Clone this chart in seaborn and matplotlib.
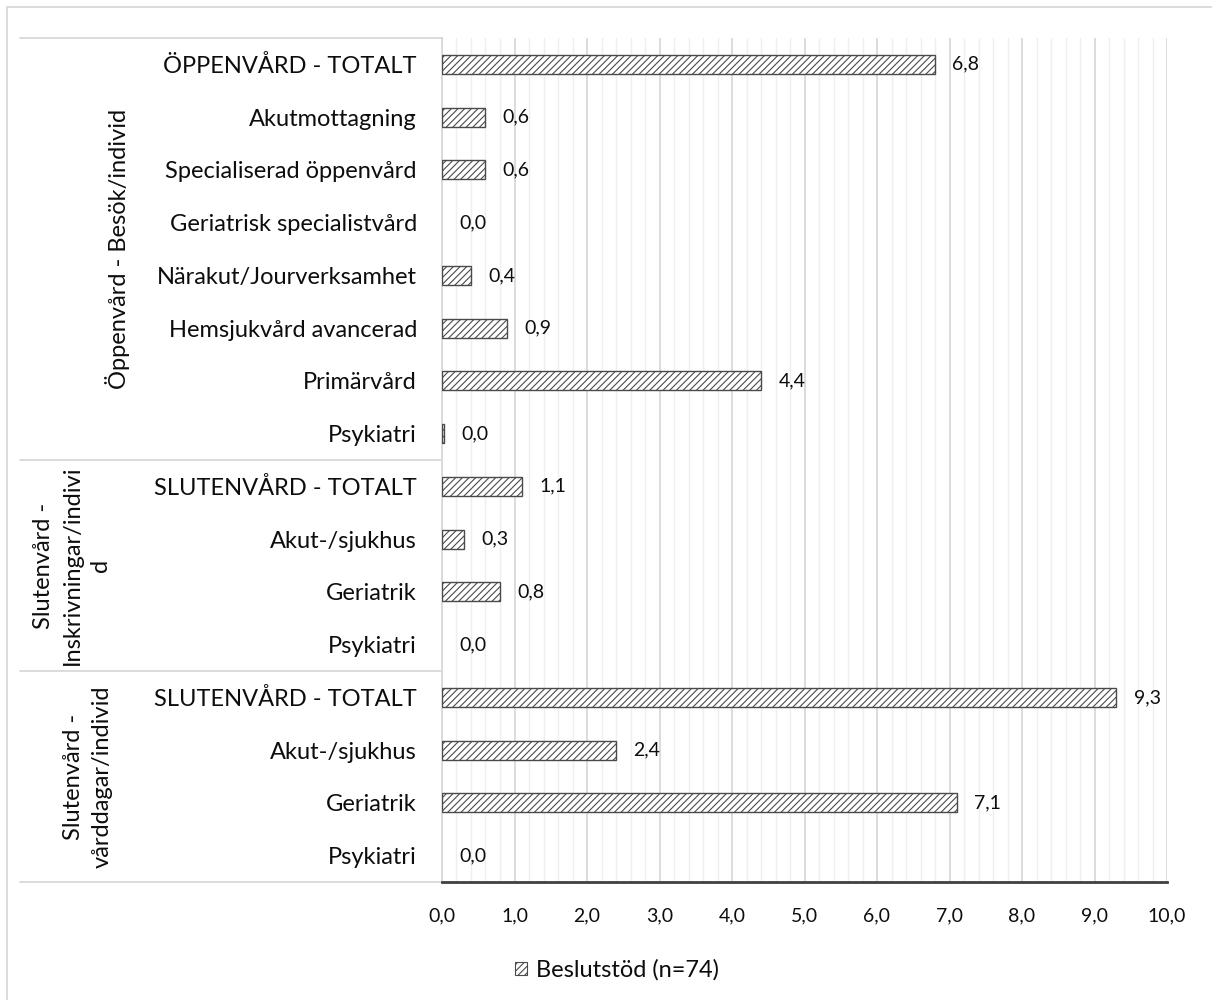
import matplotlib
matplotlib.use("Agg")
import matplotlib.pyplot as plt
from matplotlib.patches import Patch, Rectangle
from matplotlib.ticker import MultipleLocator, FuncFormatter
import seaborn as sns
import pandas as pd

# Data
group_labels = [
    "Öppenvård - Besök/individ",
    "Slutenvård -\nInskrivningar/indivi\nd",
    "Slutenvård -\nvårddagar/individ",
]
oppen_categories = ["ÖPPENVÅRD - TOTALT", "Akutmottagning", "Specialiserad öppenvård",
                    "Geriatrisk specialistvård", "Närakut/Jourverksamhet",
                    "Hemsjukvård avancerad", "Primärvård", "Psykiatri"]
oppen_values = [6.8, 0.6, 0.6, 0.0, 0.4, 0.9, 4.4, 0.03]
inskr_categories = ["SLUTENVÅRD - TOTALT", "Akut-/sjukhus", "Geriatrik", "Psykiatri"]
inskr_values = [1.1, 0.3, 0.8, 0.0]
vard_categories = ["SLUTENVÅRD - TOTALT", "Akut-/sjukhus", "Geriatrik", "Psykiatri"]
vard_values = [9.3, 2.4, 7.1, 0.0]
series_name = "Beslutstöd (n=74)"

FS = 17        # category, group and legend text
FS_NUM = 14    # tick and value labels
TEXT = "#0d0d0d"

sns.set_theme(style="white")
plt.rcParams["font.family"] = ["Lato", "DejaVu Sans"]
plt.rcParams["hatch.linewidth"] = 0.8
plt.rcParams["hatch.color"] = "#3a3a3a"

rows = []
for g, cats, vals in [(0, oppen_categories, oppen_values),
                      (1, inskr_categories, inskr_values),
                      (2, vard_categories, vard_values)]:
    for c, v in zip(cats, vals):
        rows.append({"key": f"{g}|{c}", "kategori": c, "grupp": g, "varde": v})
df = pd.DataFrame(rows)

fig = plt.figure(figsize=(12.12, 10.0), dpi=100)
ax = fig.add_axes([442 / 1212, 1 - 882 / 1000, (1167 - 442) / 1212, (882 - 38) / 1000])

sns.barplot(data=df, x="varde", y="key", orient="h", ax=ax, width=0.36,
            color="white", edgecolor="#4a4a4a", linewidth=1.0, hatch="/////",
            errorbar=None, zorder=3)

# zero-length bars draw nothing
for p in ax.patches:
    if p.get_width() == 0:
        p.set_visible(False)

ax.set_xlim(0, 10)
ax.set_ylim(len(df) - 0.5, -0.5)
ax.xaxis.set_major_locator(MultipleLocator(1.0))
ax.xaxis.set_minor_locator(MultipleLocator(0.2))
ax.xaxis.set_major_formatter(FuncFormatter(lambda v, p: f"{v:.1f}".replace(".", ",")))
ax.grid(axis="x", which="major", color="#d9d9d9", linewidth=1.3, zorder=0)
ax.grid(axis="x", which="minor", color="#efefef", linewidth=1.0, zorder=0)
ax.set_axisbelow(True)

ax.set_yticks(range(len(df)))
ax.set_yticklabels(df["kategori"], fontsize=FS, color=TEXT)
ax.tick_params(axis="y", length=0, pad=18)
ax.tick_params(axis="x", which="both", length=0, pad=18, labelsize=FS_NUM, colors=TEXT)
ax.set_xlabel("")
ax.set_ylabel("")

for side in ["top", "right"]:
    ax.spines[side].set_visible(False)
ax.spines["left"].set_color("#d9d9d9")
ax.spines["left"].set_linewidth(1.3)
ax.spines["bottom"].set_color("#404040")
ax.spines["bottom"].set_linewidth(2.0)

# Value labels
for cont in ax.containers:
    ax.bar_label(cont, labels=[f"{v:.1f}".replace(".", ",") for v in df["varde"]],
                 padding=12.5, fontsize=FS_NUM, color=TEXT)

# Group separators and rotated group labels
x_left = (20 - 442) / (1167 - 442)
trans = ax.get_yaxis_transform()
bounds = [-0.5, 7.5, 11.5, 15.5]
for yb in bounds:
    ax.plot([x_left, 0], [yb, yb], transform=trans, color="#d9d9d9",
            linewidth=1.3, clip_on=False, zorder=1)
group_x = [118, 72, 88]
for i, lab in enumerate(group_labels):
    yc = (bounds[i] + bounds[i + 1]) / 2
    xa = (group_x[i] - 442) / (1167 - 442)
    ax.text(xa, yc, lab, transform=trans, rotation=90, ha="center", va="center",
            multialignment="center", fontsize=FS, color=TEXT, linespacing=1.42)

# Legend
handle = Patch(facecolor="white", edgecolor="#4a4a4a", hatch="/////", linewidth=0.8)
fig.legend([handle], [series_name], loc="center", bbox_to_anchor=(617 / 1212, 1 - 970 / 1000),
           frameon=False, fontsize=FS, handlelength=0.5, handleheight=0.5,
           handletextpad=0.35, labelcolor=TEXT)

# Chart area border
fig.patches.append(Rectangle((7 / 1212, -0.01), 1.02, 1 - 7 / 1000 + 0.01,
                             transform=fig.transFigure, fill=False,
                             edgecolor="#d9d9d9", linewidth=1.3))

fig.savefig("out.png", dpi=100, facecolor="white")
